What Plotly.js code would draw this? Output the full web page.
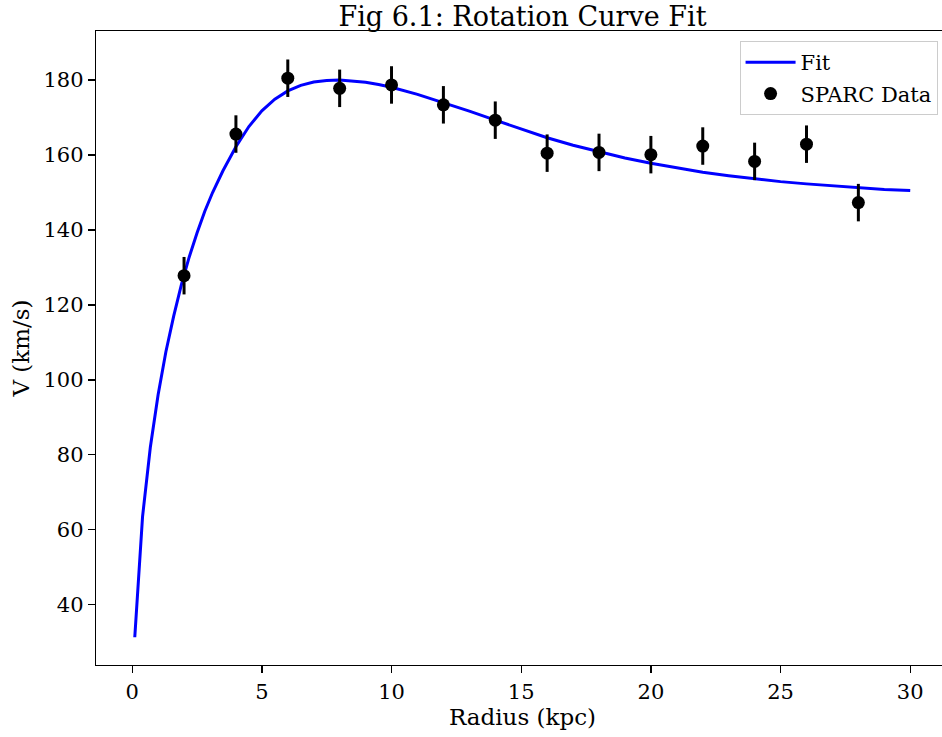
<!DOCTYPE html>
<html>
<head>
<meta charset="utf-8">
<script src="https://cdn.plot.ly/plotly-3.0.1.min.js"></script>
<style>
html,body{margin:0;padding:0;overflow:hidden;background:#fff;width:942px;height:737px;}
#chart{width:950px;height:737px;}
</style>
</head>
<body>
<div id="chart"></div>
<script>
// SPARC data points
const dataRadius = [2, 4, 6, 8, 10, 12, 14, 16, 18, 20, 22, 24, 26, 28];
const dataVelocity = [127.8, 165.6, 180.5, 177.8, 178.7, 173.4, 169.3, 160.5, 160.7, 160.1, 162.4, 158.3, 162.9, 147.3];
const dataError = [5, 5, 5, 5, 5, 5, 5, 5, 5, 5, 5, 5, 5, 5];

// Fit curve
const fitRadius = [0.1, 0.4, 0.7, 1.0, 1.3, 1.6, 1.9, 2.2, 2.5, 2.8, 3.1, 3.5, 4.0, 4.5, 5.0, 5.5, 6.0, 6.5, 7.0, 7.5, 8.0, 8.5, 9.0, 9.5, 10, 11, 12, 13, 14, 15, 16, 17, 18, 19, 20, 21, 22, 23, 24, 25, 26, 27, 28, 29, 30];
const fitVelocity = [31.3, 63.5, 82.0, 96.0, 107.5, 117.0, 125.5, 132.8, 139.2, 145.0, 150.0, 155.8, 162.2, 167.6, 171.8, 174.9, 177.1, 178.6, 179.5, 179.9, 180.0, 179.8, 179.4, 178.8, 178.1, 176.2, 174.0, 171.7, 169.3, 166.9, 164.6, 162.6, 160.8, 159.2, 157.8, 156.5, 155.4, 154.5, 153.6, 152.9, 152.3, 151.8, 151.2, 150.8, 150.5];

const FONT = "DejaVu Serif, serif";

const traces = [
  {
    x: fitRadius, y: fitVelocity,
    type: 'scatter', mode: 'lines', name: 'Fit', legendgroup: 'a',
    line: {color: '#0000ff', width: 3}
  },
  {
    x: dataRadius, y: dataVelocity,
    type: 'scatter', mode: 'markers', name: 'SPARC Data', legendgroup: 'b',
    marker: {color: '#000000', size: 13},
    error_y: {type: 'data', array: dataError, visible: true, color: '#000000', thickness: 3, width: 0}
  }
];

const axisCommon = {
  showgrid: false, zeroline: false,
  showline: true, linecolor: '#000', linewidth: 1.3, mirror: true,
  ticks: 'outside', ticklen: 7, tickwidth: 1.3, tickcolor: '#000',
  tickfont: {family: FONT, size: 21, color: '#000'}
};

const layout = {
  width: 950, height: 737,
  margin: {l: 96, r: 1, t: 31, b: 72},
  paper_bgcolor: '#fff', plot_bgcolor: '#fff',
  font: {family: FONT, color: '#000', size: 21},
  title: {
    text: 'Fig 6.1: Rotation Curve Fit',
    font: {family: FONT, size: 27, color: '#000'},
    x: 0.5, xref: 'paper', xanchor: 'center',
    y: 1, yref: 'paper', yanchor: 'bottom', pad: {b: 5}
  },
  xaxis: Object.assign({}, axisCommon, {
    range: [-1.395, 31.495],
    tickvals: [0, 5, 10, 15, 20, 25, 30],
    title: {text: 'Radius (kpc)', font: {family: FONT, size: 23, color: '#000'}, standoff: 6}
  }),
  yaxis: Object.assign({}, axisCommon, {
    range: [23.9, 193.1],
    tickvals: [40, 60, 80, 100, 120, 140, 160, 180],
    title: {text: 'V (km/s)', font: {family: FONT, size: 23, color: '#000'}, standoff: 7}
  }),
  legend: {
    x: 0.9866, y: 0.984, xanchor: 'right', yanchor: 'top',
    bgcolor: 'rgba(255,255,255,0.8)', bordercolor: '#cccccc', borderwidth: 1,
    font: {family: FONT, size: 21, color: '#000'},
    traceorder: 'grouped', tracegroupgap: 1, itemwidth: 50
  },
  showlegend: true
};

Plotly.newPlot('chart', traces, layout, {displayModeBar: false, staticPlot: true});
</script>
</body>
</html>
